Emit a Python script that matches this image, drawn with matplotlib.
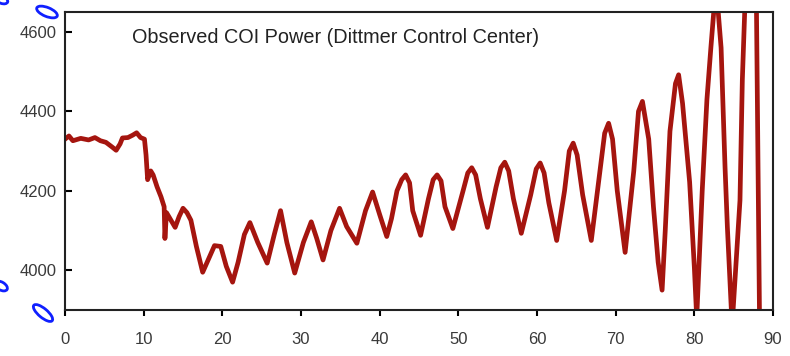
import matplotlib
matplotlib.use("Agg")
import matplotlib.pyplot as plt
from matplotlib.patches import Ellipse
from matplotlib.transforms import IdentityTransform

# Observed COI power, time in seconds vs MW
t = [0.0, 0.5, 1.0, 2.0, 3.0, 3.8, 4.5, 5.2, 6.0, 6.5, 7.0, 7.3, 8.0, 8.6, 9.1, 9.6,
     10.1, 10.3, 10.5, 10.9, 11.2, 11.7, 12.2, 12.6, 12.7, 12.9, 13.5, 14.0, 14.5,
     15.0, 15.5, 16.0, 16.7, 17.5, 18.4, 19.0, 19.8, 20.5, 21.3, 22.0, 22.8, 23.5,
     24.5, 25.7, 26.6, 27.4, 28.2, 29.2, 30.3, 31.3, 32.0, 32.8, 33.8, 34.9, 35.8,
     37.1, 38.2, 39.1, 40.0, 40.9, 41.5, 42.2, 42.8, 43.3, 43.8, 44.2, 45.2, 46.2,
     46.8, 47.3, 47.8, 48.3, 49.3, 50.6, 51.2, 51.7, 52.2, 52.8, 53.7, 54.8, 55.4,
     55.9, 56.4, 57.0, 58.0, 59.2, 59.9, 60.4, 60.9, 61.5, 62.5, 63.5, 64.1, 64.6,
     65.1, 65.8, 66.9, 68.0, 68.6, 69.1, 69.6, 70.2, 71.2, 72.3, 72.9, 73.4, 74.2,
     74.8, 75.4, 75.9, 76.3, 76.9, 77.6, 78.0, 78.5, 79.4, 80.0, 80.3, 81.0, 81.6,
     82.1, 82.75, 83.4, 83.9, 84.2, 84.8, 85.8, 86.1, 86.4, 87.1, 87.9, 88.3]
p = [4330, 4338, 4326, 4332, 4328, 4334, 4326, 4322, 4310, 4302, 4318, 4333, 4334,
     4340, 4346, 4334, 4330, 4290, 4228, 4250, 4240, 4210, 4185, 4160, 4080, 4145,
     4125, 4108, 4135, 4156, 4145, 4126, 4060, 3995, 4035, 4062, 4060, 4010, 3970,
     4020, 4090, 4120, 4070, 4018, 4090, 4150, 4070, 3993, 4070, 4122, 4080, 4026,
     4100, 4156, 4110, 4068, 4150, 4197, 4140, 4085, 4130, 4200, 4228, 4240, 4220,
     4150, 4088, 4180, 4228, 4240, 4225, 4160, 4105, 4200, 4245, 4258, 4240, 4180,
     4108, 4210, 4258, 4272, 4250, 4180, 4093, 4190, 4255, 4270, 4245, 4170, 4075,
     4200, 4300, 4320, 4290, 4190, 4075, 4250, 4345, 4370, 4330, 4200, 4045, 4250,
     4400, 4425, 4330, 4160, 4020, 3950, 4100, 4350, 4470, 4492, 4420, 4222, 4007,
     3880, 4200, 4430, 4560, 4720, 4560, 4260, 4108, 3860, 4176, 4479, 4650, 4800,
     4650, 3850]

xticks = list(range(0, 91, 10))
yticks = [4000, 4200, 4400, 4600]
title = "Observed COI Power (Dittmer Control Center)"

plt.rcParams["font.family"] = ["Liberation Sans", "DejaVu Sans"]

fig = plt.figure(figsize=(7.9, 3.56), dpi=100)
ax = fig.add_axes([0.0823, 0.1292, 0.8962, 0.8371])

ax.plot(t, p, color="#a5150f", lw=3.4, solid_joinstyle="round")
ax.set_xlim(0, 90)
ax.set_ylim(3900, 4650)
ax.set_xticks(xticks)
ax.set_yticks(yticks)
ax.tick_params(axis="y", direction="in", length=5, width=1.5, pad=6,
               labelsize=12, labelcolor="#3a3a3a")
ax.tick_params(axis="x", direction="out", length=4, width=1.5, pad=12,
               labelsize=12, labelcolor="#3a3a3a")
for s in ax.spines.values():
    s.set_linewidth(1.5)
    s.set_color("#222222")

ax.text(8.5, 4585, title, fontsize=14.3, color="#222222", va="center", ha="left")

# stray blue pen marks around the left edge
marks = [((47, 344), 22, 9, -22), ((43, 43), 24, 9, -40),
         ((1, 70), 14, 8, -30), ((2, 356), 12, 7, -20)]
for xy, w, h, ang in marks:
    fig.add_artist(Ellipse(xy, w, h, angle=ang, fill=False, ec="#1020ff",
                           lw=2, transform=IdentityTransform()))

fig.savefig("out.png", dpi=100)
